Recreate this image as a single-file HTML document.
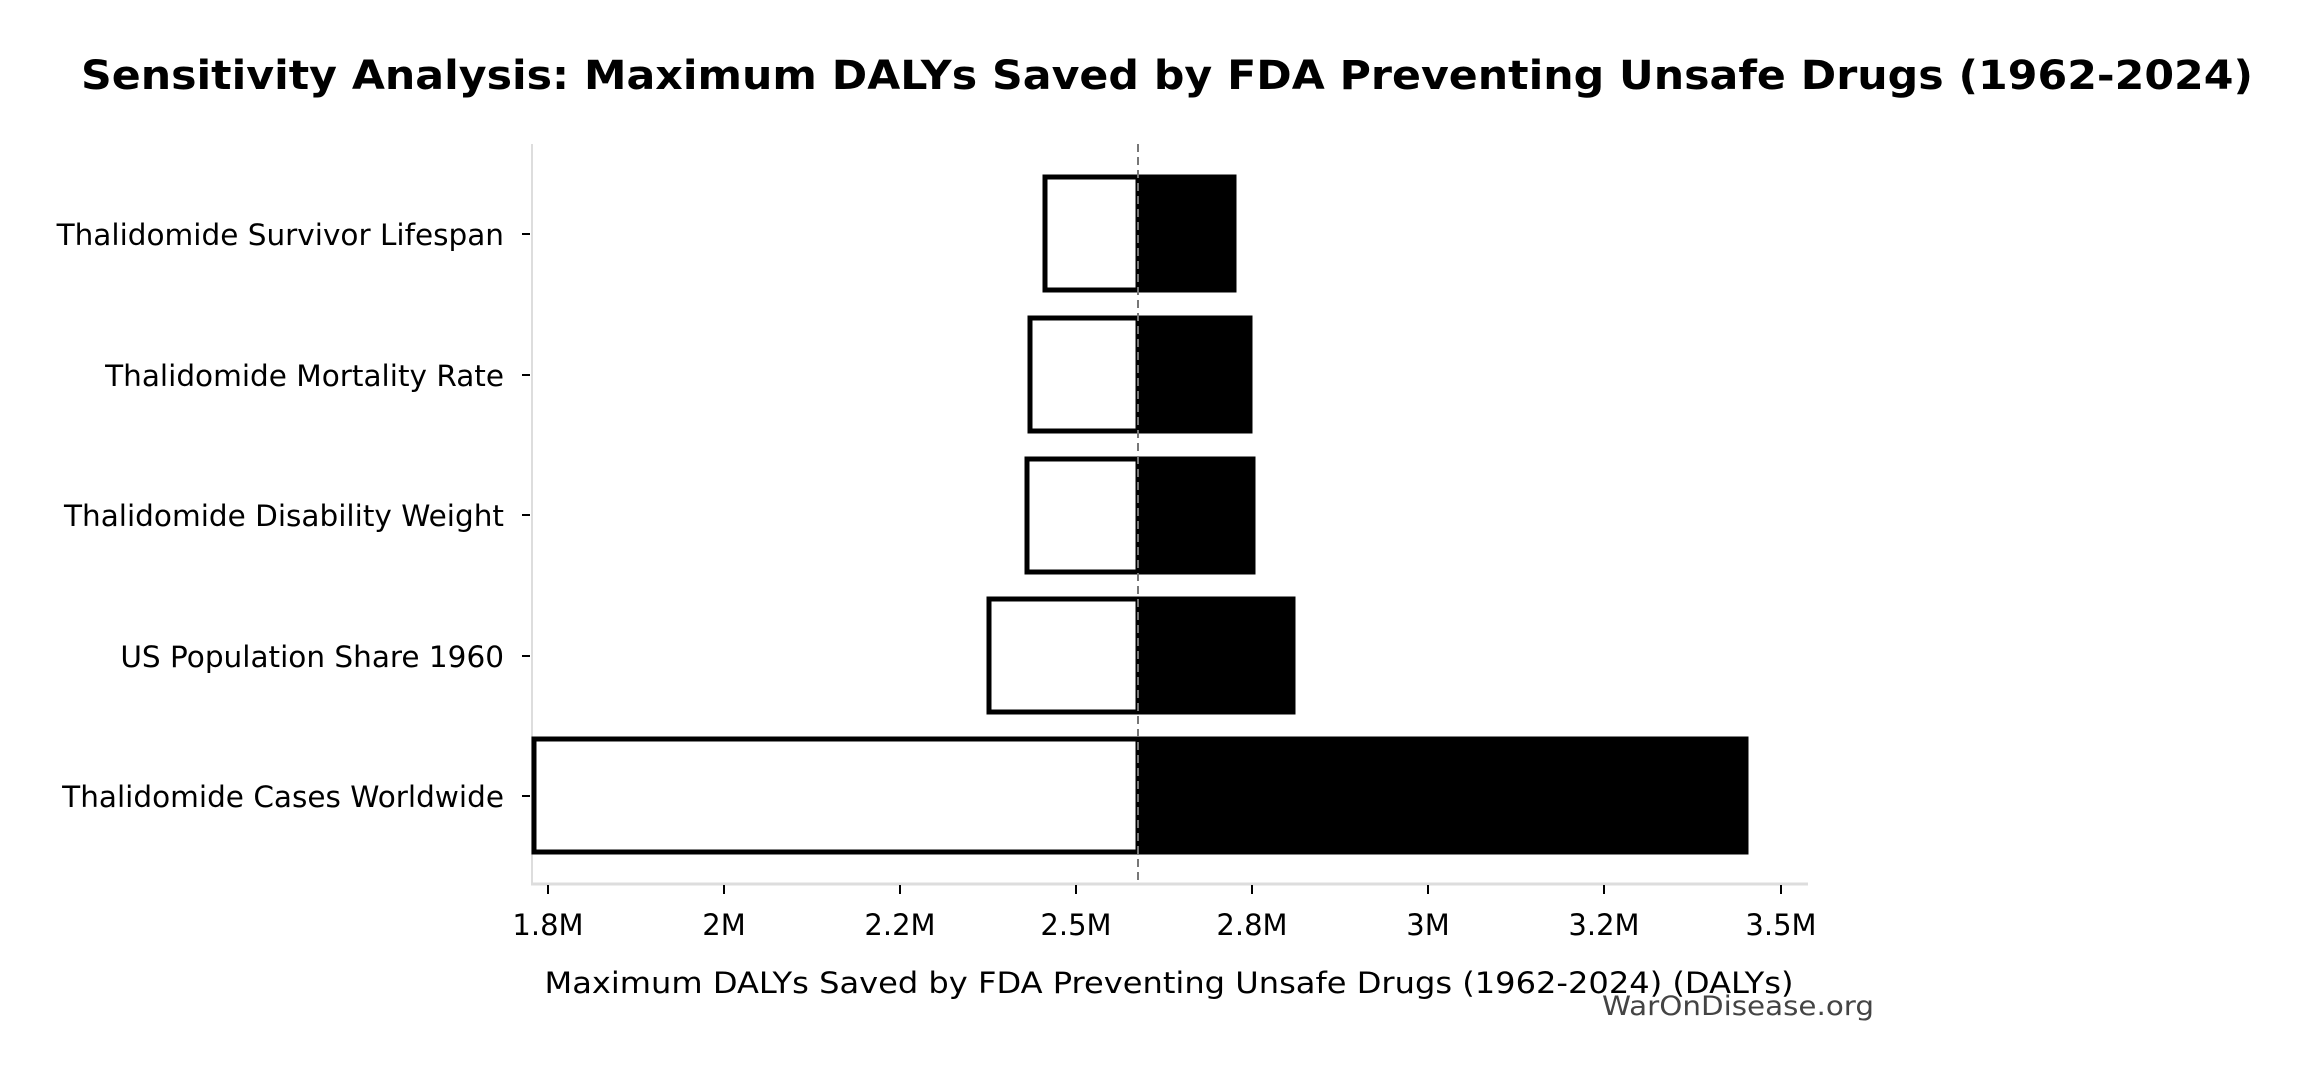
<!DOCTYPE html>
<html><head><meta charset="utf-8"><style>body{margin:0;background:#fff}svg{display:block}</style></head>
<body>
<svg width="2310" height="1075" xmlns="http://www.w3.org/2000/svg" font-family="DejaVu Sans, Liberation Sans, sans-serif">
<rect width="2310" height="1075" fill="#fff"/>
<text x="1167" y="89" font-size="40" font-weight="bold" text-anchor="middle" textLength="2172" lengthAdjust="spacingAndGlyphs">Sensitivity Analysis: Maximum DALYs Saved by FDA Preventing Unsafe Drugs (1962-2024)</text>
<line x1="532" y1="144" x2="532" y2="884" stroke="#ddd" stroke-width="2"/>
<line x1="531" y1="884" x2="1808" y2="884" stroke="#ddd" stroke-width="3"/>
<g stroke="#000" stroke-width="5">
<rect x="1138" y="177" width="96" height="113" fill="#000"/>
<rect x="1045" y="177" width="93" height="113" fill="#fff"/>
<rect x="1138" y="318" width="112" height="113" fill="#000"/>
<rect x="1030" y="318" width="108" height="113" fill="#fff"/>
<rect x="1138" y="459" width="115" height="113" fill="#000"/>
<rect x="1027" y="459" width="111" height="113" fill="#fff"/>
<rect x="1138" y="599" width="155" height="113" fill="#000"/>
<rect x="989" y="599" width="149" height="113" fill="#fff"/>
<rect x="1138" y="739" width="608" height="113" fill="#000"/>
<rect x="534" y="739" width="604" height="113" fill="#fff"/>
</g>
<line x1="1138" y1="144" x2="1138" y2="884" stroke="#777" stroke-width="2" stroke-dasharray="8,5"/>
<g stroke="#000" stroke-width="2">
<line x1="522" y1="234" x2="530" y2="234"/><line x1="522" y1="375" x2="530" y2="375"/>
<line x1="522" y1="515" x2="530" y2="515"/><line x1="522" y1="656" x2="530" y2="656"/>
<line x1="522" y1="796" x2="530" y2="796"/>
</g>
<g font-size="29.5" text-anchor="end">
<text x="504" y="245">Thalidomide Survivor Lifespan</text>
<text x="504" y="386">Thalidomide Mortality Rate</text>
<text x="504" y="526">Thalidomide Disability Weight</text>
<text x="504" y="667">US Population Share 1960</text>
<text x="504" y="807">Thalidomide Cases Worldwide</text>
</g>
<g stroke="#000" stroke-width="2">
<line x1="548" y1="885" x2="548" y2="894"/><line x1="724" y1="885" x2="724" y2="894"/>
<line x1="900" y1="885" x2="900" y2="894"/><line x1="1076" y1="885" x2="1076" y2="894"/>
<line x1="1252" y1="885" x2="1252" y2="894"/><line x1="1428" y1="885" x2="1428" y2="894"/>
<line x1="1604" y1="885" x2="1604" y2="894"/><line x1="1781" y1="885" x2="1781" y2="894"/>
</g>
<g font-size="29" text-anchor="middle">
<text x="548" y="935">1.8M</text><text x="724" y="935">2M</text><text x="900" y="935">2.2M</text>
<text x="1076" y="935">2.5M</text><text x="1252" y="935">2.8M</text><text x="1428" y="935">3M</text>
<text x="1604" y="935">3.2M</text><text x="1781" y="935">3.5M</text>
</g>
<text x="1169" y="993" font-size="29" text-anchor="middle" textLength="1249" lengthAdjust="spacingAndGlyphs">Maximum DALYs Saved by FDA Preventing Unsafe Drugs (1962-2024) (DALYs)</text>
<text x="1874" y="1015" font-size="27" fill="#444" text-anchor="end" textLength="272" lengthAdjust="spacingAndGlyphs">WarOnDisease.org</text>
</svg>
</body></html>
